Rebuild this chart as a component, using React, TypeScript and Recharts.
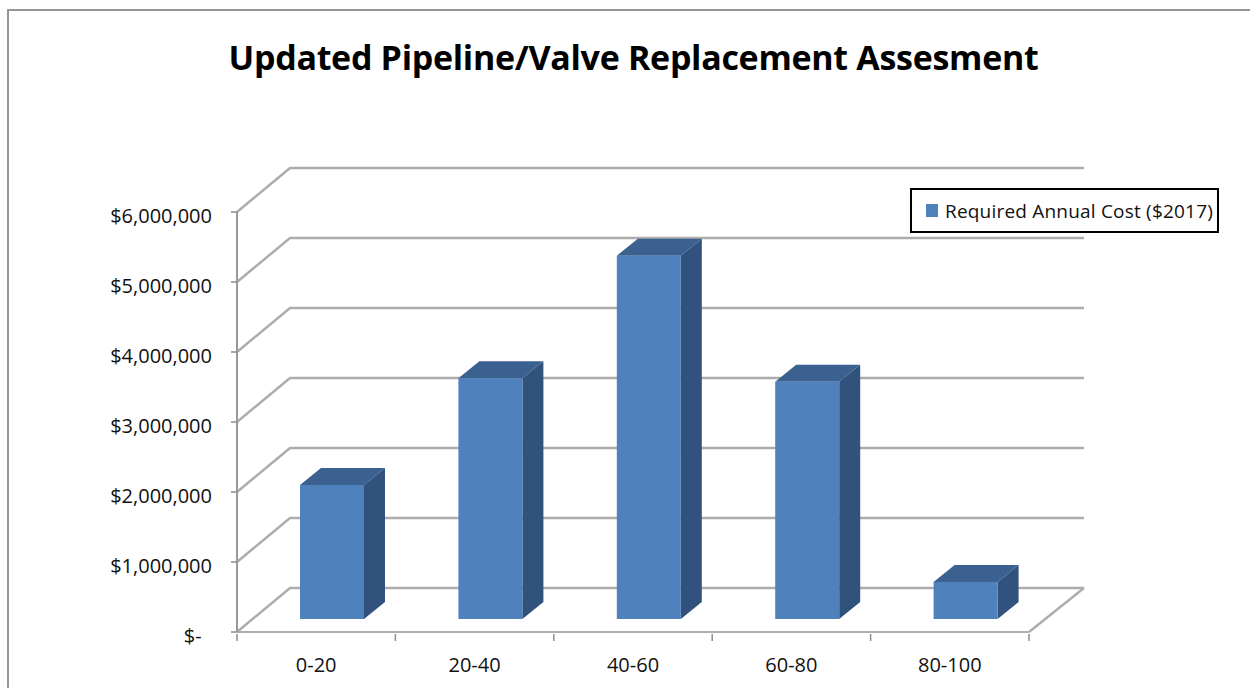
import { BarChart, Bar, XAxis, YAxis, CartesianGrid, Legend } from 'recharts'

const categories = ['0-20', '20-40', '40-60', '60-80', '80-100']
const requiredCost = [1914000, 3440000, 5190000, 3390000, 530000]
const yTicks = [0, 1000000, 2000000, 3000000, 4000000, 5000000, 6000000]
const seriesName = 'Required Annual Cost ($2017)'

const data = categories.map((name, i) => ({ name, cost: requiredCost[i] }))

const FONT = '"Open Sans", sans-serif'
const GRID = '#adadad'
const AXIS = '#8c8c8c'
const WALL_DX = 53
const WALL_DY = -44

const formatMoney = (v: number) => (v === 0 ? '$-\u00a0\u00a0' : '$' + v.toLocaleString('en-US'))

// horizontal grid line: short diagonal up the side wall, then along the back wall
function WallLine(props: any) {
  const { x1, y1, x2 } = props
  const bx = x1 + WALL_DX
  const by = y1 + WALL_DY
  const ex = x2 + WALL_DX + 2
  return (
    <g fill="none" stroke={GRID} strokeWidth={2.5}>
      <polyline points={`${x1},${y1} ${bx},${by} ${ex},${by}`} />
      {y1 > 620 && <line x1={x2} y1={y1} x2={ex} y2={by} />}
    </g>
  )
}

// tick marks sit on the category boundaries, labels stay centred
function CategoryTick(props: any) {
  const { x, y, index, width, visibleTicksCount, payload } = props
  const band = width / visibleTicksCount
  const left = x - band / 2
  const axisY = y - 6
  return (
    <g>
      <line x1={left} y1={axisY} x2={left} y2={axisY + 7} stroke={AXIS} strokeWidth={1.5} />
      {index === visibleTicksCount - 1 && (
        <line x1={left + band} y1={axisY} x2={left + band} y2={axisY + 7} stroke={AXIS} strokeWidth={1.5} />
      )}
      <text x={x} y={axisY + 33} textAnchor="middle" dominantBaseline="middle" fill="#111" fontFamily={FONT} fontSize={20}>
        {payload.value}
      </text>
    </g>
  )
}

function Bar3D(props: any) {
  const { x, y, width, height } = props
  const sx = x + 16
  const sy = y - 13
  const dx = 21
  const dy = -17
  return (
    <g>
      <path d={`M${sx},${sy} l${dx},${dy} h${width} l${-dx},${-dy} z`} fill="#3a6190" />
      <path d={`M${sx + width},${sy} l${dx},${dy} v${height} l${-dx},${-dy} z`} fill="#31527c" />
      <rect x={sx} y={sy} width={width} height={height} fill="#4f81bd" />
    </g>
  )
}

function LegendBox({ payload }: any) {
  const item = payload?.[0]
  return (
    <div
      style={{
        display: 'flex',
        alignItems: 'center',
        width: 309,
        height: 45,
        paddingLeft: 14,
        boxSizing: 'border-box',
        border: '2px solid #000',
        background: '#fff',
      }}
    >
      <span style={{ width: 12, height: 13, background: '#4f81bd', marginRight: 7, flexShrink: 0 }} />
      <span style={{ fontFamily: FONT, fontSize: 19, color: '#111', letterSpacing: 0.2, whiteSpace: 'nowrap' }}>
        {item?.value}
      </span>
    </div>
  )
}

export default function App() {
  return (
    <div style={{ position: 'absolute', left: 0, top: 0, width: 1250, height: 688, background: '#fff', overflow: 'hidden' }}>
      <div style={{ position: 'absolute', left: 7, top: 9, width: 1260, height: 720, border: '2px solid #969696' }} />
      <div
        style={{
          position: 'absolute',
          left: 0,
          width: 1267,
          top: 34,
          textAlign: 'center',
          fontFamily: FONT,
          fontWeight: 700,
          fontSize: 34,
          letterSpacing: -0.3,
          color: '#000',
          whiteSpace: 'nowrap',
        }}
      >
        Updated Pipeline/Valve Replacement Assesment
      </div>
      <BarChart
        width={1250}
        height={688}
        data={data}
        margin={{ top: 212, right: 221, bottom: 0, left: 0 }}
        style={{ position: 'absolute', left: 0, top: 0 }}
      >
        <CartesianGrid vertical={false} horizontal={(p: any) => <WallLine key={p.key} {...p} />} />
        <XAxis
          dataKey="name"
          height={56}
          interval={0}
          stroke={GRID}
          strokeWidth={2}
          tick={CategoryTick}
          tickLine={false}
        />
        <YAxis
          width={237}
          domain={[0, 6000000]}
          ticks={yTicks}
          interval={0}
          tickFormatter={formatMoney}
          stroke="#9a9a9a"
          strokeWidth={2}
          tick={{ fill: '#111', fontFamily: FONT, fontSize: 20, dy: 4 }}
          tickLine={{ stroke: AXIS, strokeWidth: 1.5 }}
          tickSize={6}
          tickMargin={19}
        />
        <Bar dataKey="cost" name={seriesName} fill="#4f81bd" barSize={64} shape={Bar3D} isAnimationActive={false} />
        <Legend
          content={LegendBox}
          wrapperStyle={{ position: 'absolute', left: 910, top: 188, width: 309, height: 0 }}
        />
      </BarChart>
    </div>
  )
}
